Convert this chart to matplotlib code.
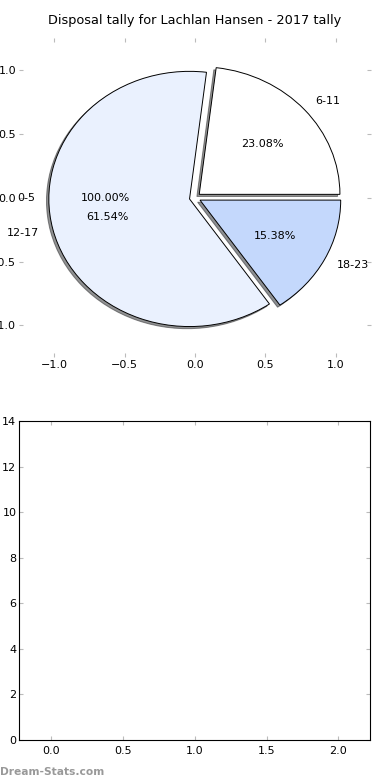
import matplotlib
matplotlib.use('Agg')
import matplotlib.pyplot as plt
import numpy as np

# disposal counts per time bucket (minutes)
buckets = ['6-11', '12-17', '18-23']
tally = [3, 8, 2]
colours = ['#ffffff', '#eaf1fe', '#c4d8fc']
explode = [0.04, 0.04, 0.04]

# the empty bucket ends up as its own full-circle pie with only labels
empty_bucket = ['0-5']
empty_tally = [1]

bar_ymax = 14
title = 'Disposal tally for Lachlan Hansen - 2017 tally'

plt.rcParams['font.size'] = 8

fig = plt.figure(figsize=(3.9, 7.8), dpi=100)

# pie chart
ax1 = fig.add_axes([0.049, 0.542, 0.902, 0.409])
ax1.pie(tally, labels=buckets, colors=colours, explode=explode, autopct='%1.2f%%',
        shadow={'ox': -0.012, 'oy': -0.012, 'shade': 0.85}, startangle=0, frame=True,
        wedgeprops={'edgecolor': 'black', 'linewidth': 0.7},
        textprops={'fontsize': 8})
ax1.pie(empty_tally, labels=empty_bucket, explode=[0.035], autopct='%1.2f%%', frame=True,
        wedgeprops={'visible': False}, textprops={'fontsize': 8})
ax1.set_aspect('auto')
ax1.set_xlim(-1.25, 1.25)
ax1.set_ylim(-1.25, 1.25)
ax1.set_frame_on(False)
ax1.set_xticks(np.arange(-1.0, 1.01, 0.5))
ax1.set_yticks(np.arange(-1.0, 1.01, 0.5))
ax1.tick_params(direction='in', length=3, color='#bbbbbb', top=True, right=True,
                labelsize=8, pad=2)
ax1.set_title(title, fontsize=9.3, pad=10)

# empty bar chart underneath
ax2 = fig.add_axes([0.049, 0.0513, 0.9, 0.409])
ax2.set_xlim(-0.22, 2.22)
ax2.set_ylim(0, bar_ymax)
ax2.set_xticks(np.arange(0, 2.01, 0.5))
ax2.set_yticks(np.arange(0, bar_ymax + 1, 2))
ax2.tick_params(direction='in', length=3, color='#bbbbbb', top=True, right=True,
                labelsize=8, pad=2)
ax2.tick_params(axis='x', pad=4)

fig.text(0.0, 0.007, 'Dream-Stats.com', color='#999999', fontsize=7.7, fontweight='bold')

plt.savefig('out.png', dpi=100)
